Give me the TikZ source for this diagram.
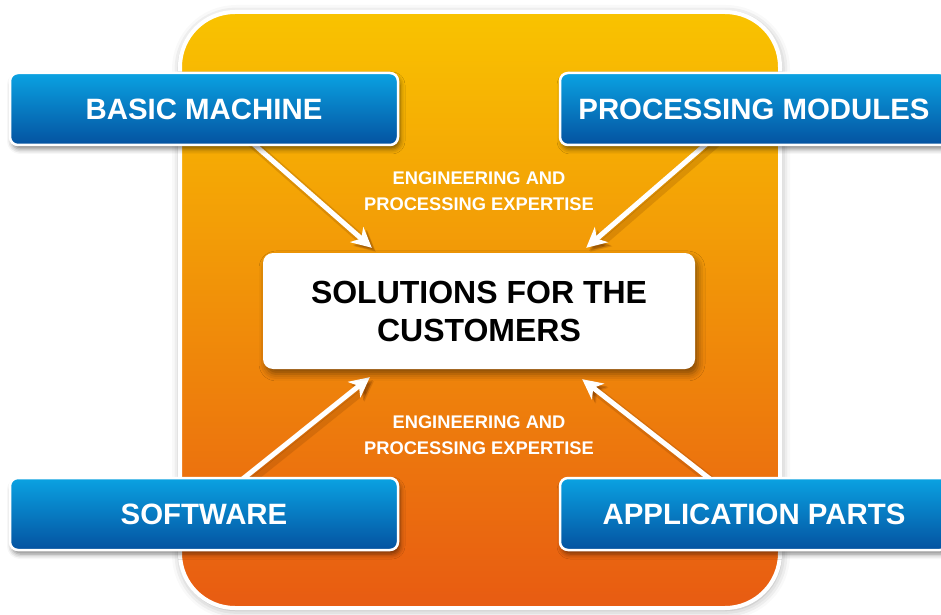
\documentclass[tikz,border=0pt]{standalone}
\usepackage{fontspec}
\setmainfont{Liberation Sans}
\usetikzlibrary{arrows.meta,calc,positioning}
\usetikzlibrary{shadows.blur,backgrounds}
\definecolor{panelTop}{HTML}{F9C300}
\definecolor{panelBot}{HTML}{E85B12}
\definecolor{blueTop}{HTML}{0AA2E2}
\definecolor{blueBot}{HTML}{0452A0}
\definecolor{shade}{HTML}{6A3000}
\tikzset{
  panel/.style={draw=white, line width=4pt, rounded corners=55pt, top color=panelTop, bottom color=panelBot, blur shadow={shadow xshift=1pt, shadow yshift=-2pt, shadow blur radius=9pt, shadow opacity=35}},
  part/.style={rectangle, rounded corners=8pt, draw=white, line width=2.5pt, top color=blueTop, bottom color=blueBot, text=white, font=\bfseries\fontsize{29.4}{34}\selectfont, minimum width=388pt, minimum height=72pt, blur shadow={shadow xshift=2pt, shadow yshift=-4pt, shadow blur radius=5pt, shadow opacity=50}},
  goal/.style={rectangle, rounded corners=10pt, fill=white, align=center, font=\bfseries\fontsize{32}{38}\selectfont, minimum width=432pt, minimum height=116pt, blur shadow={shadow xshift=3pt, shadow yshift=-5pt, shadow blur radius=7pt, shadow opacity=45}},
  note/.style={text=white, align=center, font=\bfseries\fontsize{18.3}{26}\selectfont},
  flow/.style={draw=white, line width=5pt, -{Stealth[length=20pt,width=20pt,inset=6pt]},
    preaction={draw=shade, opacity=.18, line width=9pt, transform canvas={shift={(4pt,-4pt)}}},
    preaction={draw=shade, opacity=.25, transform canvas={shift={(3pt,-3pt)}}}}
}
\begin{document}
\begin{tikzpicture}[x=1pt,y=1pt]
  \useasboundingbox (0,0) rectangle (941,614);
  \node[part] (basic) at (204,505) {BASIC MACHINE};
  \node[part] (modules) at (754,505) {PROCESSING MODULES};
  \node[part] (software) at (204,100) {SOFTWARE};
  \node[part] (parts) at (754,100) {APPLICATION PARTS};
  \node[goal] (sol) at (479,303) {SOLUTIONS FOR THE\\CUSTOMERS};
  \node[note] (exptop) at (479,423) {ENGINEERING AND\\PROCESSING EXPERTISE};
  \node[note] (expbot) at (479,179) {ENGINEERING AND\\PROCESSING EXPERTISE};
  % panel and arrows behind the boxes
  \begin{scope}[on background layer]
    \draw[panel] (180,6) rectangle (780,602);
    \draw[flow] ($(basic.south)+(35,15)$) -- ($(sol.north west)+(109,5)$);
    \draw[flow] ($(modules.south)+(-33,15)$) -- ($(sol.north east)+(-109,5)$);
    \draw[flow] ($(software.north)+(24,-14)$) -- ($(sol.south west)+(107,-8)$);
    \draw[flow] ($(parts.north)+(-29,-14)$) -- ($(sol.south east)+(-113,-10)$);
  \end{scope}
\end{tikzpicture}
\end{document}
